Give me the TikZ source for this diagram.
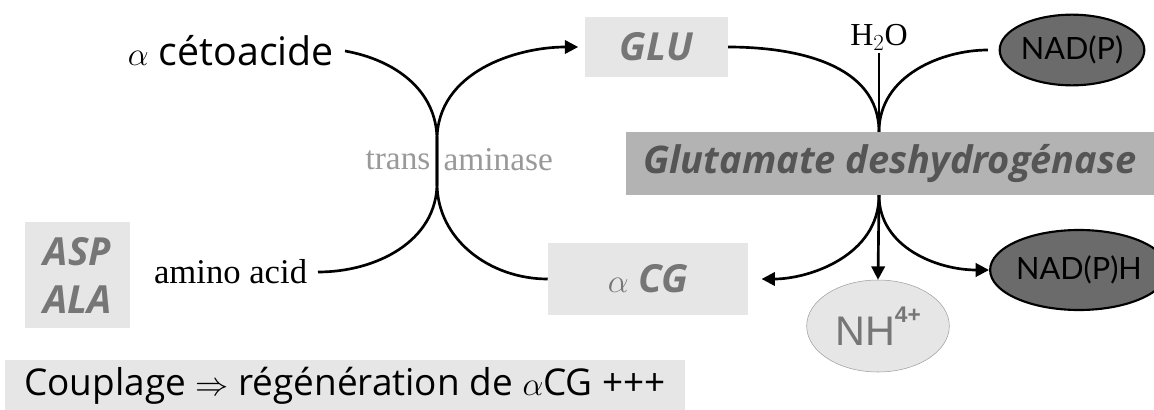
\documentclass[tikz,border=0pt]{standalone}
\usepackage{fontspec}
\setmainfont{Liberation Serif}
\newfontfamily\comicfont{Open Sans}
\newfontfamily\arialfont{Liberation Sans}
\newfontfamily\gillfont{Lato}
\usepackage{tikz}
\usetikzlibrary{shapes.geometric, arrows.meta, positioning, calc}
\definecolor{AA_LIGHT}{HTML}{E6E6E6}
\definecolor{AA_MID}{HTML}{B3B3B3}
\definecolor{AA_DARK}{HTML}{6B6B6B}
\definecolor{AA_GREY}{HTML}{767676}
\definecolor{AA_TRANS}{HTML}{999999}
\definecolor{AA_GDH}{HTML}{555555}
\tikzset{
  metab/.style={
    rectangle, fill=AA_LIGHT, text=AA_GREY, inner sep=0pt,
    align=center, font=\comicfont\bfseries\itshape\fontsize{29}{36}\selectfont},
  enzyme/.style={
    rectangle, fill=AA_MID, text=AA_GDH, inner sep=0pt,
    font=\comicfont\bfseries\itshape\fontsize{28.5}{32}\selectfont},
  cofac/.style={
    ellipse, draw=black, line width=1.6pt, fill=AA_DARK, inner sep=0pt,
    font=\gillfont\fontsize{23}{26}\selectfont},
  lbl/.style={inner sep=8pt, font=\fontsize{26}{29}\selectfont},
  comiclbl/.style={inner sep=8pt, font=\comicfont\fontsize{29.5}{33}\selectfont},
  trans/.style={inner sep=1pt, text=AA_TRANS, font=\fontsize{25}{28}\selectfont},
  line/.style={line width=2pt, black},
  arr/.style={-{Triangle[length=10pt,width=10pt]}, line width=2pt, black},
}
\begin{document}
\begin{tikzpicture}[x=0.75pt, y=0.75pt]
  \useasboundingbox (0,-410) rectangle (1154,0);

  % transaminase side
  \node[comiclbl, anchor=east] (ceto) at (345,-51) {$\alpha$ cétoacide};
  \node[metab, minimum width=107pt, minimum height=45pt] (glu) at (656.5,-47) {GLU};
  \node[metab, minimum width=79pt, minimum height=79.5pt] (aspala) at (77.5,-275) {ASP\\ALA};
  \node[lbl, anchor=east] (amino) at (318,-272) {amino acid};
  \node[metab, minimum width=150pt, minimum height=54pt] (acg) at (648,-279)
    {{\normalfont\mdseries\upshape$\alpha$} CG};

  \coordinate (kissT) at (437,-140);
  \coordinate (kissB) at (437,-183);
  \node[trans, anchor=east] (transL) at (432,-160) {trans};
  \node[trans, anchor=west] (transR) at (442,-160) {aminase};

  \draw[line] (ceto.east) to[out=-10,in=90] (kissT) -- (kissB) to[out=-90,in=0] (amino.east);
  \draw[arr, shorten >=5pt] (acg.west) to[out=180,in=-90] (kissB) -- (kissT)
    to[out=90,in=180] (glu.west);

  % glutamate deshydrogenase side
  \node[enzyme, minimum width=396pt, minimum height=47pt] (gdh) at (890,-163.5)
    {Glutamate deshydrogénase};
  \node[inner sep=2pt, anchor=south, font=\fontsize{24}{28}\selectfont] (h2o) at (879,-53)
    {H$_2$O};
  \node[cofac, minimum width=97pt, minimum height=53pt] (nadp) at (1072,-50) {NAD(P)};
  \node[cofac, minimum width=111pt, minimum height=60pt] (nadph) at (1079,-270) {NAD(P)H};
  \node[ellipse, draw=AA_GREY!70, fill=AA_LIGHT, text=AA_GREY, inner sep=0pt,
    minimum width=107pt, minimum height=69pt,
    font=\arialfont\fontsize{31}{34}\selectfont] (nh4) at (878,-326)
    {NH\raisebox{0.55em}{\fontsize{17}{19}\selectfont\bfseries 4+}};

  \coordinate (gdhN) at (h2o.south |- gdh.north);
  \coordinate (gdhS) at (h2o.south |- gdh.south);

  \draw[line] (h2o.south) -- (gdhN);
  \draw[line] (glu.east) to[out=0,in=90] (gdhN);
  \draw[line, shorten <=8pt] (nadp.west) to[out=180,in=90] (gdhN);
  \draw[arr, shorten >=10pt] (gdhS) to[out=-90,in=0] (acg.east);
  \draw[arr] (gdhS) -- (nh4.north);
  \draw[arr] (gdhS) to[out=-90,in=180] (nadph.west);

  % bottom line
  \node[rectangle, fill=AA_LIGHT, inner sep=0pt, minimum width=510pt, minimum height=39pt,
    font=\comicfont\fontsize{27.7}{30}\selectfont] (couplage) at (345,-386)
    {Couplage $\Rightarrow$ régénération de $\alpha$CG +++};
\end{tikzpicture}
\end{document}
